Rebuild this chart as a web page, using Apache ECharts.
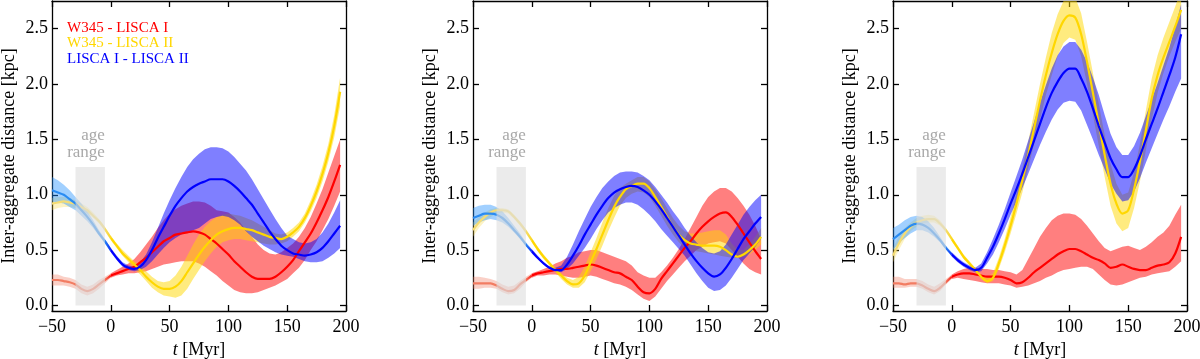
<!DOCTYPE html>
<html>
<head>
<meta charset="utf-8">
<script src="https://cdn.jsdelivr.net/npm/echarts@6/dist/echarts.min.js"></script>
<style>
  html, body { margin: 0; padding: 0; background: #fff; }
  #chart { width: 1200px; height: 359px; }
</style>
</head>
<body>
<div id="chart"></div>
<script>
  // time grid, Myr
  var times = [-50,-45,-40,-35,-30,-25,-20,-15,-10,-5, 0,5,10,15,20,25,30,35,40,45,
    50,55,60,65,70,75,80,85,90,95, 100,105,110,115,120,125,130,135,140,145,
    150,155,160,165,170,175,180,185,190,195];
  var xTicks = [-50, 0, 50, 100, 150, 200];
  var yTicks = [0, 0.5, 1.0, 1.5, 2.0, 2.5];
  var ageRange = [-30, -5, 0, 1.25];
  var pairNames = ['W345 - LISCA I', 'W345 - LISCA II', 'LISCA I - LISCA II'];

  // panel 1
  var p1RedMid = [.23,.23,.22,.21,.19,.15,.13,.15,.19,.23,.27,.29,.31,.33,.35,.39,.43,.48,.53,.58,.61,.64,.65,.66,.67,.66,.64,.60,.56,.51,.46,.40,.35,.30,.26,.24,.24,.24,.26,.30,.35,.41,.49,.57,.65,.75,.86,.98,1.12,1.27];
  var p1RedLo  = [.18,.18,.18,.17,.15,.11,.09,.11,.15,.20,.25,.27,.28,.29,.29,.30,.31,.33,.35,.37,.38,.39,.40,.40,.40,.38,.35,.31,.27,.22,.18,.14,.12,.11,.11,.12,.14,.16,.18,.21,.24,.29,.34,.41,.50,.58,.68,.78,.90,1.03];
  var p1RedHi  = [.28,.28,.26,.25,.23,.19,.17,.19,.23,.26,.29,.32,.35,.38,.42,.48,.55,.62,.70,.77,.83,.87,.90,.92,.94,.94,.93,.90,.86,.85,.84,.80,.75,.68,.62,.55,.50,.47,.46,.48,.52,.56,.62,.70,.80,.92,1.05,1.20,1.35,1.50];
  var p1YelMid = [.92,.93,.94,.93,.92,.89,.86,.81,.76,.69,.61,.54,.47,.42,.37,.32,.26,.21,.17,.15,.15,.17,.22,.30,.38,.46,.53,.59,.64,.67,.69,.70,.70,.69,.68,.66,.64,.62,.61,.60,.62,.66,.71,.79,.90,1.03,1.19,1.38,1.62,1.93];
  var p1YelLo  = [.86,.88,.89,.89,.88,.86,.83,.79,.74,.67,.59,.52,.45,.39,.33,.28,.22,.16,.12,.09,.08,.07,.09,.15,.24,.32,.40,.47,.53,.57,.59,.60,.60,.59,.58,.57,.56,.55,.55,.56,.58,.62,.67,.75,.85,.97,1.12,1.30,1.52,1.80];
  var p1YelHi  = [.97,.98,.98,.97,.95,.92,.89,.84,.78,.71,.63,.56,.50,.45,.40,.36,.31,.26,.22,.21,.22,.27,.35,.45,.55,.64,.71,.76,.80,.82,.83,.82,.81,.79,.77,.74,.71,.68,.65,.64,.66,.70,.75,.83,.95,1.09,1.26,1.46,1.72,2.06];
  var p1BluMid = [1.04,1.02,1.00,.96,.92,.86,.80,.73,.65,.58,.50,.43,.37,.34,.33,.35,.41,.50,.61,.71,.81,.90,.97,1.03,1.07,1.10,1.12,1.14,1.14,1.14,1.12,1.08,1.03,.97,.91,.83,.75,.67,.60,.54,.50,.47,.46,.45,.46,.48,.52,.58,.65,.72];
  var p1BluLo  = [.94,.93,.92,.89,.86,.81,.76,.70,.63,.56,.48,.41,.35,.32,.31,.32,.35,.40,.46,.52,.57,.61,.64,.66,.68,.70,.74,.78,.80,.81,.80,.77,.73,.67,.62,.58,.54,.51,.48,.46,.45,.44,.42,.40,.39,.39,.40,.43,.47,.52];
  var p1BluHi  = [1.16,1.13,1.09,1.04,.98,.92,.85,.77,.68,.60,.52,.45,.39,.36,.35,.39,.46,.57,.70,.83,.95,1.06,1.16,1.25,1.32,1.37,1.41,1.43,1.43,1.42,1.39,1.34,1.28,1.22,1.14,1.05,.96,.87,.78,.70,.63,.60,.57,.56,.57,.60,.66,.74,.84,.95];

  // panel 2
  var p2RedMid = [.20,.20,.20,.20,.18,.15,.13,.14,.19,.23,.27,.29,.30,.31,.32,.33,.33,.34,.35,.36,.37,.36,.34,.32,.30,.29,.26,.23,.17,.12,.11,.15,.24,.31,.38,.45,.52,.58,.65,.71,.76,.80,.83,.84,.80,.73,.65,.57,.49,.42];
  var p2RedLo  = [.15,.15,.16,.16,.15,.12,.10,.11,.15,.21,.25,.27,.27,.28,.28,.27,.26,.25,.25,.26,.27,.26,.24,.22,.20,.19,.17,.14,.10,.06,.04,.08,.15,.22,.28,.34,.40,.45,.50,.53,.56,.57,.58,.56,.50,.44,.38,.33,.30,.28];
  var p2RedHi  = [.26,.26,.25,.24,.22,.19,.17,.18,.22,.26,.29,.31,.33,.35,.38,.40,.43,.45,.48,.49,.50,.50,.48,.46,.44,.42,.40,.36,.30,.27,.25,.25,.30,.36,.43,.51,.60,.70,.80,.90,.98,1.03,1.06,1.06,1.03,.97,.90,.82,.72,.60];
  var p2YelMid = [.68,.75,.80,.84,.86,.86,.85,.80,.74,.67,.59,.51,.44,.38,.32,.27,.22,.19,.20,.27,.39,.51,.64,.77,.89,.98,1.05,1.08,1.10,1.10,1.06,.98,.89,.80,.71,.64,.59,.56,.55,.54,.54,.54,.53,.50,.46,.44,.46,.50,.55,.62];
  var p2YelLo  = [.62,.70,.76,.80,.83,.84,.83,.78,.72,.65,.57,.49,.42,.36,.30,.24,.19,.16,.16,.21,.31,.42,.54,.67,.79,.90,.97,1.01,1.03,1.02,.98,.90,.81,.72,.64,.57,.52,.50,.49,.48,.47,.46,.45,.44,.43,.43,.44,.46,.50,.55];
  var p2YelHi  = [.75,.80,.84,.87,.88,.88,.87,.82,.76,.69,.61,.53,.46,.40,.34,.29,.25,.23,.26,.35,.48,.61,.75,.88,.99,1.06,1.10,1.13,1.16,1.16,1.12,1.05,.97,.88,.79,.72,.67,.65,.65,.66,.67,.68,.68,.64,.56,.50,.50,.55,.62,.70];
  var p2BluMid = [.79,.81,.83,.83,.82,.79,.74,.68,.62,.55,.49,.43,.38,.34,.32,.32,.37,.45,.54,.64,.73,.82,.90,.97,1.02,1.05,1.07,1.08,1.07,1.04,1.00,.94,.87,.79,.71,.63,.55,.47,.40,.34,.29,.26,.28,.34,.42,.51,.60,.67,.74,.80];
  var p2BluLo  = [.72,.75,.77,.78,.77,.75,.71,.66,.60,.54,.47,.42,.37,.33,.31,.30,.33,.38,.45,.52,.60,.69,.77,.84,.88,.91,.93,.93,.91,.87,.82,.76,.69,.63,.57,.51,.45,.37,.29,.22,.16,.13,.14,.18,.25,.33,.41,.47,.53,.60];
  var p2BluHi  = [.88,.90,.91,.91,.89,.85,.79,.72,.65,.57,.51,.45,.39,.35,.34,.36,.44,.55,.67,.78,.89,.98,1.06,1.12,1.17,1.20,1.21,1.21,1.20,1.17,1.13,1.07,1.00,.93,.85,.78,.70,.63,.57,.52,.48,.47,.49,.55,.64,.73,.82,.89,.95,1.00];

  // panel 3
  var p3RedMid = [.20,.20,.19,.20,.20,.18,.15,.13,.16,.21,.26,.28,.29,.29,.28,.27,.26,.26,.26,.25,.23,.20,.21,.25,.30,.34,.38,.42,.46,.49,.51,.51,.49,.46,.43,.41,.38,.34,.35,.37,.35,.33,.32,.32,.34,.36,.37,.39,.47,.62];
  var p3RedLo  = [.16,.16,.16,.17,.17,.15,.12,.10,.13,.19,.24,.25,.24,.23,.22,.21,.20,.20,.20,.19,.18,.16,.17,.18,.20,.22,.25,.27,.30,.32,.33,.34,.35,.35,.33,.28,.23,.19,.18,.19,.21,.23,.25,.26,.28,.29,.30,.31,.35,.40];
  var p3RedHi  = [.26,.26,.24,.24,.24,.22,.19,.17,.20,.24,.28,.31,.33,.34,.34,.33,.33,.32,.32,.31,.30,.28,.32,.42,.52,.62,.70,.77,.81,.83,.83,.82,.78,.72,.65,.58,.52,.49,.51,.53,.54,.52,.50,.53,.57,.62,.66,.72,.82,.91];
  var p3YelMid = [.45,.56,.65,.71,.75,.77,.78,.78,.74,.68,.60,.52,.44,.38,.32,.26,.22,.25,.38,.54,.72,.92,1.13,1.36,1.60,1.85,2.08,2.28,2.45,2.57,2.62,2.60,2.45,2.20,1.92,1.64,1.36,1.10,.92,.83,.86,1.05,1.30,1.58,1.87,2.08,2.24,2.38,2.52,2.67];
  var p3YelLo  = [.39,.50,.60,.67,.71,.74,.75,.75,.72,.66,.58,.50,.42,.36,.30,.24,.20,.22,.33,.48,.65,.83,1.02,1.24,1.46,1.68,1.90,2.08,2.25,2.37,2.42,2.40,2.25,2.00,1.72,1.44,1.16,.90,.74,.67,.70,.88,1.12,1.40,1.68,1.92,2.10,2.25,2.38,2.50];
  var p3YelHi  = [.52,.62,.70,.75,.79,.81,.82,.81,.77,.70,.62,.54,.46,.40,.34,.28,.25,.29,.43,.60,.80,1.01,1.24,1.48,1.74,2.00,2.24,2.46,2.63,2.75,2.80,2.78,2.64,2.38,2.10,1.82,1.54,1.28,1.10,1.00,1.02,1.20,1.46,1.76,2.05,2.26,2.42,2.56,2.70,2.85];
  var p3BluMid = [.60,.64,.68,.72,.74,.73,.70,.65,.59,.52,.46,.41,.37,.34,.32,.34,.43,.53,.65,.78,.92,1.05,1.19,1.34,1.49,1.64,1.79,1.92,2.02,2.10,2.14,2.14,2.05,1.93,1.78,1.62,1.47,1.33,1.23,1.16,1.16,1.23,1.35,1.50,1.64,1.78,1.93,2.08,2.24,2.45];
  var p3BluLo  = [.50,.56,.61,.65,.68,.68,.66,.62,.57,.51,.44,.39,.35,.32,.30,.31,.38,.46,.57,.69,.82,.94,1.06,1.19,1.32,1.45,1.57,1.68,1.77,1.83,1.85,1.84,1.76,1.63,1.50,1.36,1.23,1.10,1.01,.94,.95,1.03,1.15,1.29,1.42,1.55,1.68,1.80,1.93,2.05];
  var p3BluHi  = [.70,.73,.77,.80,.81,.80,.76,.70,.62,.54,.48,.43,.39,.36,.34,.38,.48,.60,.73,.87,1.02,1.17,1.32,1.49,1.66,1.83,1.99,2.14,2.26,2.34,2.38,2.38,2.31,2.20,2.06,1.90,1.72,1.55,1.43,1.36,1.36,1.44,1.56,1.71,1.86,2.01,2.17,2.33,2.52,2.72];

  var panels = [
    [[p1RedMid, p1RedLo, p1RedHi], [p1YelMid, p1YelLo, p1YelHi], [p1BluMid, p1BluLo, p1BluHi]],
    [[p2RedMid, p2RedLo, p2RedHi], [p2YelMid, p2YelLo, p2YelHi], [p2BluMid, p2BluLo, p2BluHi]],
    [[p3RedMid, p3RedLo, p3RedHi], [p3YelMid, p3YelLo, p3YelHi], [p3BluMid, p3BluLo, p3BluHi]]
  ];

  var FONT = '"Liberation Serif", "DejaVu Serif", serif';
  // main colour, band colour, colour before t = 0, band colour before t = 0
  var colors = [
    {line: '#ff0000', band: 'rgba(255,0,0,0.5)', pre: '#f27c62', preBand: 'rgba(240,120,95,0.35)'},
    {line: '#ffd700', band: 'rgba(255,215,0,0.5)', pre: '#f4dc74', preBand: 'rgba(250,215,60,0.3)'},
    {line: '#0000ff', band: 'rgba(0,0,255,0.5)', pre: '#2a8cf2', preBand: 'rgba(30,144,255,0.42)'}
  ];
  var lefts = [52, 473, 893];
  var zeroIdx = times.indexOf(0);

  function bandSeries(g, lo, hi, from, to, fill) {
    var rows = [];
    for (var i = from; i <= to; i++) rows.push([times[i], lo[i], hi[i]]);
    return {
      type: 'custom', xAxisIndex: g * 2, yAxisIndex: g * 2, clip: true, silent: true, z: 2,
      data: rows,
      encode: {x: 0, y: [1, 2]},
      renderItem: function (params, api) {
        if (params.dataIndex !== 0) return null;
        var pts = [];
        for (var i = from; i <= to; i++) pts.push(api.coord([times[i], hi[i]]));
        for (var j = to; j >= from; j--) pts.push(api.coord([times[j], lo[j]]));
        return {type: 'polygon', shape: {points: pts}, style: {fill: fill}};
      }
    };
  }

  function lineSeries(g, mid, from, to, color, name) {
    var rows = [];
    for (var i = from; i <= to; i++) rows.push([times[i], mid[i]]);
    var s = {
      type: 'line', xAxisIndex: g * 2, yAxisIndex: g * 2, data: rows, z: 3,
      showSymbol: false, symbol: 'none', smooth: 0.3, silent: true,
      lineStyle: {width: 2.2, color: color}, itemStyle: {color: color}
    };
    if (name) s.name = name;
    return s;
  }

  var grids = [], xAxes = [], yAxes = [], series = [];
  var axisLine = {show: true, onZero: false, lineStyle: {color: '#000', width: 1.3}};
  var tick = {show: true, inside: true, length: 6, lineStyle: {color: '#000', width: 1.3}};

  panels.forEach(function (panel, g) {
    grids.push({left: lefts[g], top: 1, width: 294, height: 310, containLabel: false, outerBoundsMode: 'none'});
    xAxes.push({
      gridIndex: g, type: 'value', min: -50, max: 200, interval: 50,
      axisLine: axisLine, axisTick: tick, splitLine: {show: false},
      axisLabel: {
        color: '#000', fontFamily: FONT, fontSize: 18, margin: 7,
        formatter: function (v) { return v < 0 ? '\u2212' + (-v) : String(v); }
      },
      name: '{i|t} [Myr]', nameLocation: 'middle', nameGap: 29,
      nameTextStyle: {
        color: '#000', fontFamily: FONT, fontSize: 18,
        rich: {i: {fontStyle: 'italic', fontFamily: FONT, fontSize: 18, color: '#000'}}
      }
    });
    xAxes.push({
      gridIndex: g, type: 'value', position: 'top', min: -50, max: 200, interval: 50,
      axisLine: axisLine, axisTick: tick, axisLabel: {show: false}, splitLine: {show: false}
    });
    yAxes.push({
      gridIndex: g, type: 'value', min: -0.05, max: 2.75,
      axisLine: axisLine, splitLine: {show: false},
      axisTick: Object.assign({customValues: yTicks}, tick),
      axisLabel: {
        customValues: yTicks, color: '#000', fontFamily: FONT, fontSize: 18, margin: 4,
        formatter: function (v) { return v.toFixed(1); }
      },
      name: 'Inter-aggregate distance [kpc]', nameLocation: 'middle', nameRotate: 90, nameGap: 34,
      nameTextStyle: {color: '#000', fontFamily: FONT, fontSize: 18}
    });
    yAxes.push({
      gridIndex: g, type: 'value', position: 'right', min: -0.05, max: 2.75,
      axisLine: axisLine, splitLine: {show: false},
      axisTick: Object.assign({customValues: yTicks}, tick),
      axisLabel: {show: false}
    });

    // bands first, then lines
    panel.forEach(function (pair, k) {
      var c = colors[k];
      series.push(bandSeries(g, pair[1], pair[2], 0, zeroIdx, c.preBand));
      series.push(bandSeries(g, pair[1], pair[2], zeroIdx, times.length - 1, c.band));
    });
    panel.forEach(function (pair, k) {
      var c = colors[k];
      var grad = new echarts.graphic.LinearGradient(0, 0, 1, 0, [
        {offset: 0, color: c.pre}, {offset: 0.86, color: c.pre}, {offset: 1, color: c.line}
      ]);
      series.push(lineSeries(g, pair[0], 0, zeroIdx, grad));
      series.push(lineSeries(g, pair[0], zeroIdx, times.length - 1, c.line, pairNames[k]));
    });

    // shaded age range on top
    series.push({
      type: 'custom', xAxisIndex: g * 2, yAxisIndex: g * 2, silent: true, z: 5,
      data: [ageRange],
      encode: {x: [0, 1], y: [2, 3]},
      renderItem: function (params, api) {
        var a = api.coord([api.value(0), api.value(3)]);
        var b = api.coord([api.value(1), api.value(2)]);
        return {
          type: 'group',
          children: [
            {type: 'rect', shape: {x: a[0], y: a[1], width: b[0] - a[0], height: b[1] - a[1]},
              style: {fill: 'rgba(221,221,221,0.6)'}},
            {type: 'text', x: b[0], y: a[1] - 6,
              style: {text: 'age\nrange', fill: '#a9a9a9', font: '17px ' + FONT,
                align: 'right', verticalAlign: 'bottom', lineHeight: 17}}
          ]
        };
      }
    });
  });

  var chart = echarts.init(document.getElementById('chart'), null, {renderer: 'canvas'});
  chart.setOption({
    animation: false,
    backgroundColor: '#fff',
    grid: grids,
    xAxis: xAxes,
    yAxis: yAxes,
    legend: {
      left: 57, top: 15, orient: 'vertical', icon: 'none', itemWidth: 0, itemHeight: 0, itemGap: 0,
      selectedMode: false,
      textStyle: {fontFamily: FONT, fontSize: 15, lineHeight: 15.5},
      data: pairNames.map(function (n, k) {
        return {name: n, textStyle: {color: colors[k].line}};
      })
    },
    series: series
  });
</script>
</body>
</html>
